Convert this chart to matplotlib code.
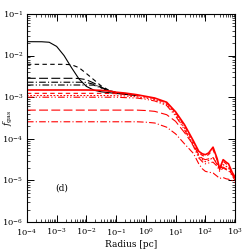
import numpy as np
import matplotlib
matplotlib.use("Agg")
import matplotlib.pyplot as plt

plt.rcParams['font.family'] = 'DejaVu Serif'
plt.rcParams['mathtext.fontset'] = 'dejavuserif'

# === DATA (log10 values) ===
log_r = [-4, -3.5, -3.25, -3, -2.75, -2.5, -2.25, -2, -1.75, -1.5, -1.25, -1, -0.7, -0.3,
         0, 0.3, 0.7, 1, 1.3, 1.6, 1.78, 1.9, 2, 2.11, 2.26, 2.4, 2.48, 2.6, 2.7, 2.78, 2.9, 3]
# black curves stop after they merge (first 14 grid points)
black_solid   = [-1.666, -1.668, -1.68, -1.78, -2.0, -2.29, -2.56, -2.74, -2.83, -2.87, -2.89, -2.91, -2.93, -2.96]
black_dash    = [-2.21, -2.21, -2.21, -2.21, -2.21, -2.22, -2.29, -2.43, -2.58, -2.73, -2.83, -2.89, -2.92, -2.96]
black_ldash   = [-2.546, -2.546, -2.546, -2.546, -2.546, -2.546, -2.55, -2.58, -2.66, -2.76, -2.84, -2.89, -2.92, -2.96]
black_dashdot = [-2.64, -2.64, -2.64, -2.64, -2.64, -2.64, -2.64, -2.645, -2.69, -2.77, -2.84, -2.89, -2.92, -2.96]
black_dd      = [-2.707, -2.707, -2.707, -2.707, -2.707, -2.707, -2.707, -2.707, -2.71, -2.78, -2.85, -2.89, -2.92, -2.96]

red_solid = [-2.827, -2.827, -2.827, -2.827, -2.827, -2.827, -2.827, -2.827, -2.83, -2.835, -2.85, -2.88, -2.9, -2.94,
             -2.98, -3.02, -3.12, -3.35, -3.66, -4.05, -4.3, -4.36, -4.38, -4.34, -4.2,
             -4.48, -4.72, -4.5, -4.56, -4.6, -4.8, -4.92]
red_dash = [-2.907, -2.907, -2.907, -2.907, -2.907, -2.907, -2.907, -2.907, -2.907, -2.907, -2.91, -2.915, -2.93, -2.96,
            -2.99, -3.03, -3.14, -3.37, -3.69, -4.08, -4.33, -4.4, -4.42, -4.38, -4.26,
            -4.52, -4.74, -4.54, -4.6, -4.65, -4.84, -4.95]
red_dot = [-2.96, -2.96, -2.96, -2.96, -2.96, -2.96, -2.96, -2.96, -2.96, -2.96, -2.96, -2.965, -2.97, -2.99,
           -3.02, -3.06, -3.17, -3.41, -3.74, -4.14, -4.42, -4.5, -4.55, -4.52, -4.45,
           -4.6, -4.75, -4.62, -4.66, -4.7, -4.86, -4.98]
red_dd = [-3.0, -3.0, -3.0, -3.0, -3.0, -3.0, -3.0, -3.0, -3.0, -3.0, -3.0, -3.0, -3.01, -3.02,
          -3.05, -3.09, -3.2, -3.45, -3.78, -4.18, -4.46, -4.55, -4.6, -4.58, -4.56,
          -4.66, -4.78, -4.7, -4.74, -4.76, -4.88, -5.0]
red_ldash = [-3.31, -3.31, -3.31, -3.31, -3.31, -3.31, -3.31, -3.31, -3.31, -3.31, -3.31, -3.31, -3.31, -3.31,
             -3.32, -3.34, -3.42, -3.58, -3.85, -4.15, -4.38, -4.47, -4.5, -4.48, -4.45,
             -4.62, -4.7, -4.68, -4.72, -4.75, -4.85, -4.95]
red_dashdot = [-3.59, -3.59, -3.59, -3.59, -3.59, -3.59, -3.59, -3.59, -3.59, -3.59, -3.59, -3.59, -3.59, -3.59,
               -3.6, -3.62, -3.72, -3.88, -4.12, -4.35, -4.6, -4.72, -4.78, -4.8, -4.82,
               -4.9, -4.95, -4.93, -4.96, -4.97, -5.0, -5.05]

r = 10.0 ** np.array(log_r)
rb = r[:len(black_solid)]

fig = plt.figure(figsize=(2.49, 2.49), dpi=100)
ax = fig.add_axes([0.108, 0.108, 0.836, 0.836])

lw_b = 0.8
ax.plot(rb, 10.0 ** np.array(black_solid), color='black', lw=lw_b)
ax.plot(rb, 10.0 ** np.array(black_dash), color='black', lw=lw_b, ls=(0, (4, 3)))
ax.plot(rb, 10.0 ** np.array(black_ldash), color='black', lw=lw_b, ls=(0, (8, 3)))
ax.plot(rb, 10.0 ** np.array(black_dashdot), color='black', lw=lw_b, ls=(0, (6, 2, 1, 2)))
ax.plot(rb, 10.0 ** np.array(black_dd), color='black', lw=lw_b, ls=(0, (6, 2, 1, 2, 1, 2)))

red = '#ff0000'
ax.plot(r, 10.0 ** np.array(red_dd), color=red, lw=0.8, ls=(0, (6, 2, 1, 2, 1, 2)))
ax.plot(r, 10.0 ** np.array(red_dot), color=red, lw=0.8, ls=(0, (1.5, 1.5)))
ax.plot(r, 10.0 ** np.array(red_dash), color=red, lw=0.8, ls=(0, (4, 3)))
ax.plot(r, 10.0 ** np.array(red_ldash), color=red, lw=0.8, ls=(0, (8, 3)))
ax.plot(r, 10.0 ** np.array(red_dashdot), color=red, lw=0.8, ls=(0, (6, 2, 1, 2)))
ax.plot(r, 10.0 ** np.array(red_solid), color=red, lw=1.2)

ax.set_xscale('log')
ax.set_yscale('log')
ax.set_xlim(1e-4, 1e3)
ax.set_ylim(1e-6, 1e-1)
ax.set_xticks(10.0 ** np.arange(-4, 4))
ax.set_yticks(10.0 ** np.arange(-6, 0))

ax.tick_params(which='both', direction='in', top=True, right=True, labelsize=6, pad=2.5)
ax.tick_params(axis='x', pad=3.5)
ax.tick_params(which='major', length=5, width=0.7)
ax.tick_params(which='minor', length=2.5, width=0.5)
for s in ax.spines.values():
    s.set_linewidth(0.8)

ax.set_xlabel("Radius [pc]", fontsize=6.5, labelpad=1)
ax.set_ylabel(r"$f_{\rm gas}$", fontsize=6.5)
ax.yaxis.set_label_coords(-0.055, 0.5)
ax.text(1.5e-3, 6.6e-6, "(d)", fontsize=6.5, ha='center', va='center')

fig.savefig("out.png", dpi=100)
